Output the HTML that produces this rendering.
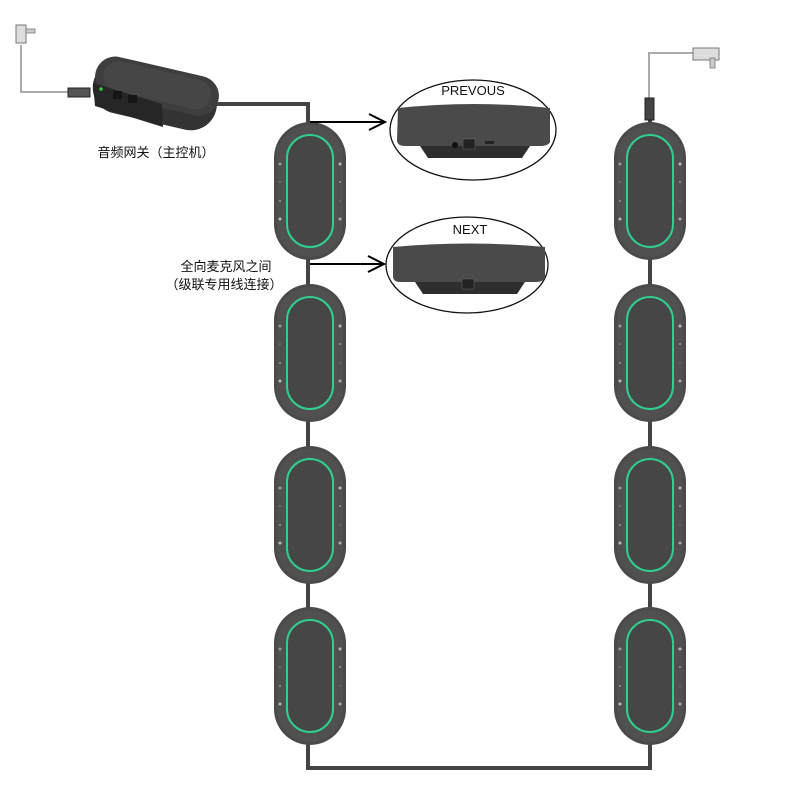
<!DOCTYPE html>
<html><head><meta charset="utf-8"><style>
html,body{margin:0;padding:0;background:#fff;}
svg{display:block;}
text{font-family:"Liberation Sans","Noto Sans CJK SC",sans-serif;fill:#111;}
</style></head><body>
<svg width="800" height="800" viewBox="0 0 800 800" xmlns="http://www.w3.org/2000/svg">
<defs>
<symbol id="mic" viewBox="0 0 72 138">
  <rect x="0" y="0" width="72" height="138" rx="36" ry="36" fill="#4a4a4a"/>
  <rect x="3" y="3" width="66" height="132" rx="33" fill="#505050"/>
  <rect x="13" y="13" width="46" height="112" rx="23" fill="#464646" stroke="#2fd08e" stroke-width="2"/>
  <circle cx="6" cy="42" r="1.5" fill="#999"/>
  <circle cx="6" cy="60" r="0.8" fill="#888"/>
  <circle cx="6" cy="79" r="1" fill="#999"/>
  <circle cx="6" cy="97" r="1.5" fill="#bbb"/>
  <circle cx="66" cy="42" r="1.5" fill="#bbb"/>
  <circle cx="66" cy="60" r="1" fill="#999"/>
  <circle cx="66" cy="79" r="0.8" fill="#777"/>
  <circle cx="66" cy="97" r="1.5" fill="#aaa"/>
</symbol>
</defs>

<g stroke="#444" stroke-width="4" fill="none">
  <polyline points="214,104 308,104 308,768 650,768 650,110"/>
</g>
<polyline points="21,45 21,92 72,92" stroke="#aaa" stroke-width="2" fill="none"/>
<rect x="16" y="25" width="10" height="18" fill="#ddd" stroke="#777" stroke-width="1"/>
<rect x="26" y="29" width="9" height="4" fill="#ccc" stroke="#777" stroke-width="0.8"/>
<rect x="68" y="88" width="22" height="9" fill="#555" stroke="#222" stroke-width="1"/>
<polyline points="649,100 649,53 693,53" stroke="#aaa" stroke-width="2" fill="none"/>
<rect x="693" y="48" width="26" height="12" fill="#ddd" stroke="#777" stroke-width="1"/>
<rect x="710" y="58" width="5" height="10" fill="#ccc" stroke="#777" stroke-width="0.8"/>
<rect x="645" y="98" width="9" height="22" fill="#444" stroke="#222" stroke-width="1"/>

<!-- gateway -->
<g transform="rotate(13 155 95)">
  <rect x="92" y="70" width="126" height="52" rx="26" fill="#333"/>
  <rect x="92" y="66" width="126" height="40" rx="20" fill="#3e3e3e"/>
  <rect x="100" y="70" width="110" height="30" rx="15" fill="#464646"/>
</g>
<path d="M93,83 L162,104 L163,127 L95,106 Z" fill="#262626"/>
<circle cx="101" cy="89" r="1.8" fill="#2ecc40"/>
<rect x="113" y="91" width="9" height="8" fill="#151515"/>
<rect x="128" y="95" width="9" height="8" fill="#151515"/>
<text x="156" y="157" font-size="13" text-anchor="middle">音频网关（主控机）</text>

<use href="#mic" x="274" y="122" width="72" height="138"/>
<use href="#mic" x="274" y="284" width="72" height="138"/>
<use href="#mic" x="274" y="446" width="72" height="138"/>
<use href="#mic" x="274" y="607" width="72" height="138"/>
<use href="#mic" x="614" y="122" width="72" height="138"/>
<use href="#mic" x="614" y="284" width="72" height="138"/>
<use href="#mic" x="614" y="446" width="72" height="138"/>
<use href="#mic" x="614" y="607" width="72" height="138"/>

<g stroke="#000" stroke-width="2" fill="none">
  <line x1="310" y1="122" x2="385" y2="122"/>
  <polyline points="369,114 385,122 369,130"/>
  <line x1="310" y1="264" x2="384" y2="264"/>
  <polyline points="368,256 384,264 368,272"/>
</g>
<text x="226" y="271" font-size="13" text-anchor="middle">全向麦克风之间</text>
<text x="224" y="289" font-size="13" text-anchor="middle">（级联专用线连接）</text>

<ellipse cx="473" cy="130" rx="83" ry="50" fill="#fff" stroke="#111" stroke-width="1.3"/>
<text x="473" y="95" font-size="13" text-anchor="middle">PREVOUS</text>
<path d="M398,108 Q475,100 550,108 L550,142 Q548,146 540,146 L405,146 Q397,146 397,140 Z" fill="#4a4a4a"/>
<path d="M420,146 L530,146 L522,158 L428,158 Z" fill="#2e2e2e"/>
<circle cx="455" cy="145" r="3" fill="#111"/>
<rect x="463" y="139" width="12" height="10" fill="#222" stroke="#666" stroke-width="0.5"/>
<rect x="485" y="141" width="9" height="3" fill="#222"/>

<ellipse cx="467" cy="265" rx="81" ry="48" fill="#fff" stroke="#111" stroke-width="1.3"/>
<text x="470" y="234" font-size="13" text-anchor="middle">NEXT</text>
<path d="M393,247 Q470,240 545,247 L545,278 Q543,282 535,282 L400,282 Q393,282 393,276 Z" fill="#4a4a4a"/>
<path d="M415,282 L525,282 L517,294 L423,294 Z" fill="#2e2e2e"/>
<rect x="462" y="279" width="12" height="10" fill="#222" stroke="#666" stroke-width="0.5"/>
</svg>
</body></html>
